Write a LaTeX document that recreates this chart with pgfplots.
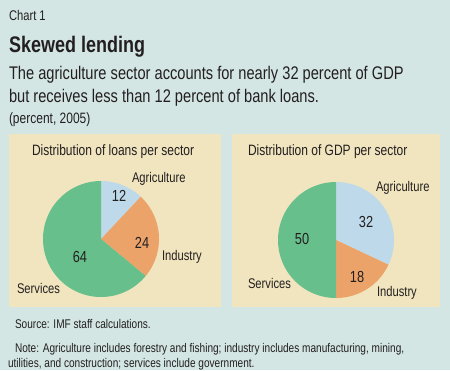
\documentclass[border=0pt]{standalone}
\usepackage{pgfplots}
\pgfplotsset{compat=1.18}
\usepackage{fontspec}
\setmainfont{Liberation Sans}[FakeStretch=0.8]
\definecolor{bg}{RGB}{211,230,228}
\definecolor{panel}{RGB}{240,229,190}
\definecolor{agri}{RGB}{190,218,234}
\definecolor{indu}{RGB}{236,163,106}
\definecolor{serv}{RGB}{103,192,140}
\definecolor{txt}{RGB}{35,31,32}
% one wedge: cumulative percent from #1 to #2, clockwise from 12 o'clock
\newcommand{\slice}[3]{\addplot[fill=#3, draw=none, domain=#1:#2, samples=80, variable=\t]
  ({cos(90-3.6*\t)},{sin(90-3.6*\t)}) -- (axis cs:0,0) -- cycle;}
\begin{document}
\begin{tikzpicture}[x=1bp,y=-1bp,every node/.style={inner sep=0pt,outer sep=0pt,text=txt}]
\fill[bg] (0,0) rectangle (450,370);
\fill[panel] (9,134) rectangle (221,307);
\fill[panel] (232,134) rectangle (440,307);
\coordinate (c1) at (101,239);
\coordinate (c2) at (336,240);
% titles
\node[anchor=base west] at (9,20.5) {\fontsize{14bp}{16bp}\selectfont Chart 1};
\node[anchor=base west] at (9,52) {\fontsize{22.5bp}{26bp}\selectfont\bfseries Skewed lending};
\node[anchor=base west] at (9,79) {\fontsize{18.3bp}{22bp}\selectfont The agriculture sector accounts for nearly 32 percent of GDP};
\node[anchor=base west] at (9,102) {\fontsize{18.3bp}{22bp}\selectfont but receives less than 12 percent of bank loans.};
\node[anchor=base west] at (9,123) {\fontsize{15bp}{17bp}\selectfont (percent, 2005)};
% panel titles
\node[anchor=base west] at (32,155) {\fontsize{15bp}{17bp}\selectfont Distribution of loans per sector};
\node[anchor=base west] at (248,155) {\fontsize{15bp}{17bp}\selectfont Distribution of GDP per sector};
% pie 1: loans
\begin{axis}[at={(c1)}, anchor=center, hide axis, scale only axis,
  x=58bp, y=58bp, xmin=-1, xmax=1, ymin=-1, ymax=1, clip=false]
\slice{0}{12}{agri}
\slice{12}{36}{indu}
\slice{36}{100}{serv}
\end{axis}
% pie 2: GDP
\begin{axis}[at={(c2)}, anchor=center, hide axis, scale only axis,
  x=58bp, y=58bp, xmin=-1, xmax=1, ymin=-1, ymax=1, clip=false]
\slice{0}{32}{agri}
\slice{32}{50}{indu}
\slice{50}{100}{serv}
\end{axis}
% pie labels
\begin{scope}[every node/.append style={font=\fontsize{16bp}{18bp}\selectfont}]
\node at (119,196) {12};
\node at (142,243) {24};
\node at (80,257) {64};
\node at (366,222) {32};
\node at (357,277) {18};
\node at (302,239) {50};
\end{scope}
\begin{scope}[every node/.append style={font=\fontsize{14bp}{16bp}\selectfont}]
\node[anchor=west] at (132,179) {Agriculture};
\node[anchor=west] at (162,257) {Industry};
\node[anchor=west] at (17,288) {Services};
\node[anchor=west] at (376,188) {Agriculture};
\node[anchor=west] at (377,293) {Industry};
\node[anchor=west] at (248,283) {Services};
\end{scope}
% footer
\begin{scope}[every node/.append style={font=\fontsize{12.6bp}{14bp}\selectfont, anchor=base west}]
\node at (15,328) {Source: IMF staff calculations.};
\node at (15,352) {Note: Agriculture includes forestry and fishing; industry includes manufacturing, mining,};
\node at (8,367) {utilities, and construction; services include government.};
\end{scope}
\end{tikzpicture}
\end{document}
